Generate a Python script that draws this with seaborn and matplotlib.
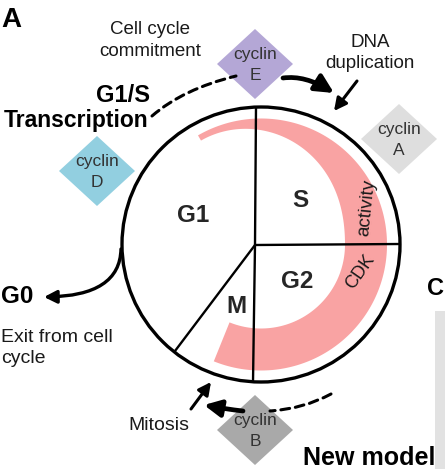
import numpy as np
import matplotlib
matplotlib.use('Agg')
import matplotlib.pyplot as plt
from matplotlib.patches import Ellipse, Polygon, Rectangle, FancyArrowPatch, ArrowStyle
from matplotlib.path import Path
import seaborn as sns

# phase names in the cell cycle wheel (pixel positions, y down)
phase_labels = ['G1', 'S', 'G2', 'M']
phase_x = [193, 300, 297, 236]
phase_y = [222, 207, 288, 313]

# cyclins sitting round the wheel
cyclin_names = ['E', 'A', 'D', 'B']
cyclin_x = [255, 399, 97, 255]
cyclin_y = [65, 140, 172, 431]
cyclin_colors = ['#b4a7d6', '#dedede', '#92cfe0', '#a9a9a9']

# wheel geometry
wheel_c = (261, 245.5)
wheel_w, wheel_h = 278, 275
hub = (255, 246)
spoke_x = [256, 253, 400, 175]
spoke_y = [108, 383, 245, 352]

# CDK activity band (angles in degrees, counter-clockwise from 3 o'clock)
band_start, band_end = 120, -112
band_outer = 126
band_inner_min, band_inner_max = 84, 120

sns.set_style('white')
plt.rcParams['font.family'] = ['Liberation Sans', 'DejaVu Sans']

fig = plt.figure(figsize=(4.45, 4.77), dpi=100)
ax = fig.add_axes([0, 0, 1, 1])
ax.set_xlim(0, 445)
ax.set_ylim(477, 0)
ax.axis('off')

# pink CDK band
th = np.linspace(band_start, band_end, 200)
u = np.clip(th / band_start, 0, 1)
r_in = band_inner_min + (band_inner_max - band_inner_min) * (3 * u**2 - 2 * u**3)
cx, cy = wheel_c
rad = np.deg2rad(th)
outer = np.c_[cx + band_outer * np.cos(rad), cy - band_outer * np.sin(rad)]
inner = np.c_[cx + r_in * np.cos(rad), cy - r_in * np.sin(rad)]
ax.add_patch(Polygon(np.vstack([outer, inner[::-1]]), closed=True,
                     facecolor='#f9a3a3', edgecolor='none', zorder=1))

# spokes and rim
for sx, sy in zip(spoke_x, spoke_y):
    ax.plot([hub[0], sx], [hub[1], sy], color='k', lw=1.7, zorder=2,
            solid_capstyle='butt')
ax.add_patch(Ellipse(wheel_c, wheel_w, wheel_h, facecolor='none',
                     edgecolor='k', lw=2.4, zorder=3))

for lab, x, y in zip(phase_labels, phase_x, phase_y):
    ax.text(x, y, lab, ha='center', va='baseline', fontsize=17.5,
            fontweight='bold', zorder=4)
ax.text(367, 208, 'activity', rotation=84, ha='center', va='center',
        fontsize=13.5, color='#1a1a1a', zorder=4)
ax.text(360, 272, 'CDK', rotation=55, ha='center', va='center',
        fontsize=13, color='#1a1a1a', zorder=4)

# cyclin diamonds
for name, x, y, col in zip(cyclin_names, cyclin_x, cyclin_y, cyclin_colors):
    ax.add_patch(Polygon([(x - 38, y), (x, y - 35), (x + 38, y), (x, y + 35)],
                         closed=True, facecolor=col, edgecolor='none', zorder=2))
    ax.text(x, y - 6, 'cyclin', ha='center', va='baseline', fontsize=12.5,
            color='#333333', zorder=5)
    ax.text(x, y + 15, name, ha='center', va='baseline', fontsize=12.5,
            color='#333333', zorder=5)


def arrow(pts, lw, head=None, dashed=False):
    codes = [Path.MOVETO, Path.CURVE3, Path.CURVE3] if len(pts) == 3 else [Path.MOVETO, Path.LINETO]
    style = '-' if head is None else ArrowStyle('-|>', head_length=head[0], head_width=head[1])
    p = FancyArrowPatch(path=Path(pts, codes), arrowstyle=style, mutation_scale=1,
                        lw=lw, color='k', zorder=4,
                        linestyle=(0, (2.9, 1.9)) if dashed else '-')
    ax.add_patch(p)


arrow([(152, 117), (183, 90), (236, 77)], 2.2, dashed=True)
arrow([(283, 79), (305, 76), (334, 94)], 3.4, head=(11, 5.5))
arrow([(357, 82), (334, 112)], 2.2, head=(7.5, 3.8))
arrow([(331, 395), (303, 410), (270, 412)], 2.2, dashed=True)
arrow([(243, 412), (225, 410), (204, 406)], 3.4, head=(10, 5))
arrow([(191, 410), (211, 383)], 2.2, head=(7.5, 3.8))
arrow([(121, 250), (120, 297), (44, 298)], 2.4, head=(7.5, 3.8))

# texts round the wheel
txt = dict(va='baseline', color='#1a1a1a')
ax.text(150, 34, 'Cell cycle', ha='center', fontsize=13.5, **txt)
ax.text(150, 56, 'commitment', ha='center', fontsize=13.5, **txt)
ax.text(370, 47, 'DNA', ha='center', fontsize=13.5, **txt)
ax.text(370, 68, 'duplication', ha='center', fontsize=13.5, **txt)
ax.text(1, 342, 'Exit from cell', ha='left', fontsize=14, **txt)
ax.text(1, 363, 'cycle', ha='left', fontsize=14, **txt)
ax.text(159, 430, 'Mitosis', ha='center', fontsize=14, **txt)

bold = dict(va='baseline', fontweight='bold', color='k')
ax.text(150, 102, 'G1/S', ha='right', fontsize=17, **bold)
ax.text(148, 127, 'Transcription', ha='right', fontsize=16.5, **bold)
ax.text(1, 303, 'G0', ha='left', fontsize=17.5, **bold)
ax.text(1, 27, 'A', ha='left', fontsize=20, **bold)
ax.text(444, 295, 'C', ha='right', fontsize=17, **bold)

ax.add_patch(Rectangle((435, 312), 12, 158, facecolor='#e2e2e2',
                       edgecolor='none', zorder=1))
ax.text(303, 465, 'New model', ha='left', fontsize=18, zorder=5, **bold)

fig.savefig('out.png', dpi=100)
